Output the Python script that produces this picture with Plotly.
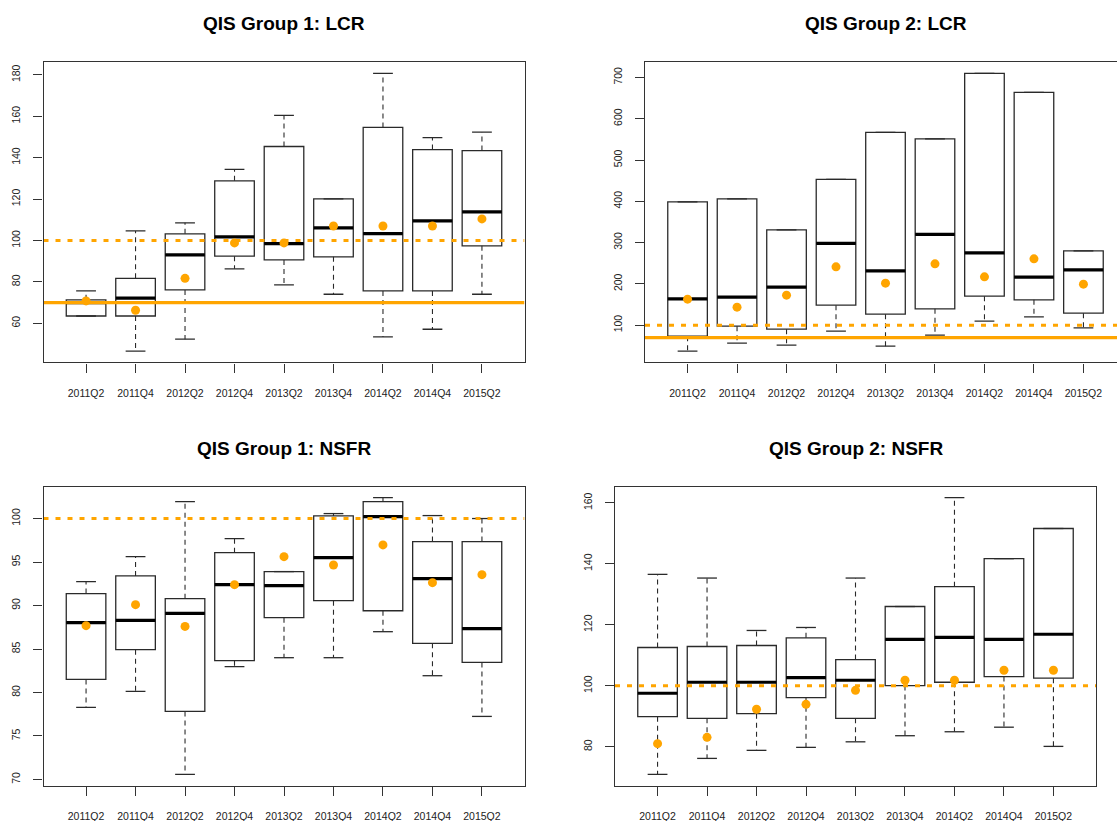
import plotly.graph_objects as go

# Reporting quarters (one box per quarter)
quarters = ["2011Q2", "2011Q4", "2012Q2", "2012Q4", "2013Q2",
            "2013Q4", "2014Q2", "2014Q4", "2015Q2"]

# QIS Group 1: LCR (%)
g1_lcr_lower = [63.5, 46.5, 52.3, 86.3, 78.5, 74.0, 53.4, 57.1, 74.0]
g1_lcr_q1 = [63.5, 63.5, 76.1, 92.4, 90.6, 92.1, 75.6, 75.6, 97.4]
g1_lcr_median = [70.0, 72.1, 93.0, 101.7, 98.5, 106.1, 103.3, 109.5, 113.8]
g1_lcr_q3 = [71.3, 81.7, 103.2, 128.8, 145.4, 120.1, 154.6, 143.9, 143.4]
g1_lcr_upper = [75.6, 104.6, 108.5, 134.3, 160.4, 120.1, 180.7, 149.7, 152.3]
g1_lcr_mean = [70.8, 66.3, 81.7, 98.8, 98.8, 107.0, 107.0, 107.0, 110.4]

# QIS Group 2: LCR (%)
g2_lcr_lower = [37.0, 56.4, 51.5, 85.5, 49.1, 75.8, 109.7, 120.2, 93.5]
g2_lcr_q1 = [73.4, 97.6, 90.3, 148.5, 126.6, 139.6, 170.3, 161.4, 129.1]
g2_lcr_median = [163.8, 167.8, 192.0, 297.9, 231.6, 319.7, 275.2, 216.3, 234.1]
g2_lcr_q3 = [398.8, 406.0, 331.0, 452.9, 566.8, 551.4, 709.7, 663.7, 280.1]
g2_lcr_upper = [398.8, 406.0, 331.0, 452.9, 566.8, 551.4, 709.7, 663.7, 280.1]
g2_lcr_mean = [163.0, 143.6, 172.7, 241.3, 201.8, 248.6, 217.1, 260.7, 199.3]

# QIS Group 1: NSFR (%)
g1_nsfr_lower = [78.29, 80.13, 70.58, 82.97, 84.0, 84.0, 86.99, 81.93, 77.25]
g1_nsfr_q1 = [81.5, 84.92, 77.82, 83.66, 88.6, 90.56, 89.4, 85.65, 83.46]
g1_nsfr_median = [88.03, 88.3, 89.1, 92.4, 92.29, 95.5, 100.23, 93.09, 87.34]
g1_nsfr_q3 = [91.37, 93.4, 90.79, 96.08, 93.9, 100.3, 101.95, 97.35, 97.35]
g1_nsfr_upper = [92.75, 95.62, 101.95, 97.7, 93.9, 100.57, 102.41, 100.34, 100.0]
g1_nsfr_mean = [87.68, 90.1, 87.6, 92.4, 95.62, 94.66, 96.97, 92.63, 93.55]

# QIS Group 2: NSFR (%)
g2_nsfr_lower = [70.9, 76.16, 78.8, 79.78, 81.6, 83.6, 84.9, 86.4, 80.1]
g2_nsfr_q1 = [89.86, 89.32, 90.85, 96.1, 89.3, 100.05, 101.15, 103.0, 102.5]
g2_nsfr_median = [97.53, 101.15, 101.15, 102.68, 101.8, 115.2, 115.9, 115.2, 116.9]
g2_nsfr_q3 = [112.55, 112.88, 113.2, 115.73, 108.6, 126.0, 132.5, 141.7, 151.6]
g2_nsfr_upper = [136.55, 135.34, 118.14, 119.12, 135.34, 126.0, 161.75, 141.7, 151.6]
g2_nsfr_mean = [80.99, 83.07, 92.27, 93.9, 98.5, 101.8, 101.8, 105.1, 105.1]

# Regulatory thresholds (%)
lcr_minimum = 70
full_compliance = 100

ORANGE = "#FFA500"
INK = "#2a2a2a"
FONT = "Liberation Sans, Arial, sans-serif"
W, H = 1117, 821

positions = list(range(1, len(quarters) + 1))
X_LO, X_HI = 0.14, len(quarters) + 0.86
BOX_W = 0.8


def fx(p):
    return p / W


def fy(p):
    return 1 - p / H


def y_range(lower, upper):
    lo, hi = min(lower), max(upper)
    pad = 0.04 * (hi - lo)
    return [lo - pad, hi + pad]


panels = [
    dict(title="QIS Group 1: LCR", lower=g1_lcr_lower, q1=g1_lcr_q1, med=g1_lcr_median,
         q3=g1_lcr_q3, upper=g1_lcr_upper, mean=g1_lcr_mean,
         left=43.5, right=524.5, top=62.3, bottom=362.3,
         yticks=list(range(60, 181, 20)), solid=lcr_minimum),
    dict(title="QIS Group 2: LCR", lower=g2_lcr_lower, q1=g2_lcr_q1, med=g2_lcr_median,
         q3=g2_lcr_q3, upper=g2_lcr_upper, mean=g2_lcr_mean,
         left=645.0, right=645.0 + 481.0, top=62.3, bottom=362.3,
         yticks=list(range(100, 701, 100)), solid=lcr_minimum),
    dict(title="QIS Group 1: NSFR", lower=g1_nsfr_lower, q1=g1_nsfr_q1, med=g1_nsfr_median,
         q3=g1_nsfr_q3, upper=g1_nsfr_upper, mean=g1_nsfr_mean,
         left=43.5, right=524.5, top=486.5, bottom=785.5,
         yticks=list(range(70, 101, 5)), solid=None),
    dict(title="QIS Group 2: NSFR", lower=g2_nsfr_lower, q1=g2_nsfr_q1, med=g2_nsfr_median,
         q3=g2_nsfr_q3, upper=g2_nsfr_upper, mean=g2_nsfr_mean,
         left=615.0, right=1096.0, top=486.5, bottom=785.5,
         yticks=list(range(80, 161, 20)), solid=None),
]

fig = go.Figure()
annotations = []

for i, p in enumerate(panels):
    s = "" if i == 0 else str(i + 1)
    xa, ya = "x" + s, "y" + s

    # the right-hand frame may run past the page edge: keep the visible part
    vis_right = min(p["right"], W)
    x_hi = X_LO + (X_HI - X_LO) * (vis_right - p["left"]) / (p["right"] - p["left"])
    clipped = vis_right < p["right"]

    # boxes (hinges only; whiskers and medians drawn separately)
    fig.add_trace(go.Box(
        x=positions, q1=p["q1"], median=p["med"], q3=p["q3"],
        lowerfence=p["q1"], upperfence=p["q3"], width=BOX_W,
        fillcolor="white", line=dict(color=INK, width=1.3), whiskerwidth=0,
        boxpoints=False, hoverinfo="skip", showlegend=False, xaxis=xa, yaxis=ya))

    # dashed whiskers
    wx, wy = [], []
    for k, pos in enumerate(positions):
        wx += [pos, pos, None, pos, pos, None]
        wy += [p["q3"][k], p["upper"][k], None, p["q1"][k], p["lower"][k], None]
    fig.add_trace(go.Scatter(x=wx, y=wy, mode="lines",
                             line=dict(color=INK, width=1.1, dash="5px,4px"),
                             hoverinfo="skip", showlegend=False, xaxis=xa, yaxis=ya))

    # whisker staples
    cx, cy = [], []
    for k, pos in enumerate(positions):
        for v in (p["upper"][k], p["lower"][k]):
            cx += [pos - BOX_W / 4, pos + BOX_W / 4, None]
            cy += [v, v, None]
    fig.add_trace(go.Scatter(x=cx, y=cy, mode="lines",
                             line=dict(color=INK, width=1.3),
                             hoverinfo="skip", showlegend=False, xaxis=xa, yaxis=ya))

    # thick medians
    mx, my = [], []
    for k, pos in enumerate(positions):
        mx += [pos - BOX_W / 2, pos + BOX_W / 2, None]
        my += [p["med"][k], p["med"][k], None]
    fig.add_trace(go.Scatter(x=mx, y=my, mode="lines",
                             line=dict(color="black", width=3.2),
                             hoverinfo="skip", showlegend=False, xaxis=xa, yaxis=ya))

    # threshold lines
    if p["solid"] is not None:
        fig.add_trace(go.Scatter(x=[X_LO, x_hi], y=[p["solid"], p["solid"]], mode="lines",
                                 line=dict(color=ORANGE, width=3.2),
                                 hoverinfo="skip", showlegend=False, xaxis=xa, yaxis=ya))
    fig.add_trace(go.Scatter(x=[X_LO, x_hi], y=[full_compliance, full_compliance], mode="lines",
                             line=dict(color=ORANGE, width=3, dash="5px,7px"),
                             hoverinfo="skip", showlegend=False, xaxis=xa, yaxis=ya))

    # means
    fig.add_trace(go.Scatter(x=positions, y=p["mean"], mode="markers",
                             marker=dict(color=ORANGE, size=9, line=dict(width=0)),
                             hoverinfo="skip", showlegend=False, xaxis=xa, yaxis=ya))

    axis_common = dict(showgrid=False, zeroline=False, showline=True, linecolor="#333333",
                       linewidth=1.4, ticks="outside", ticklen=9, tickwidth=1.2,
                       tickcolor="#333333", automargin=False,
                       tickfont=dict(family=FONT, size=10.5, color="#222222"))
    fig.layout["xaxis" + s] = dict(
        axis_common, domain=[fx(p["left"]), fx(vis_right)], range=[X_LO, x_hi],
        anchor=ya, mirror=True, tickmode="array", tickvals=positions, ticktext=quarters,
        tickangle=0, ticklabelstandoff=12)
    fig.layout["yaxis" + s] = dict(
        axis_common, domain=[fy(p["bottom"]), fy(p["top"])],
        range=y_range(p["lower"], p["upper"]), anchor=xa,
        mirror=not clipped, tickmode="array", tickvals=p["yticks"],
        tickangle=-90, ticklabelstandoff=9)

    annotations.append(dict(
        text="<b>%s</b>" % p["title"], x=fx((p["left"] + p["right"]) / 2),
        y=fy(p["top"] - 38.5), xref="paper", yref="paper", showarrow=False,
        xanchor="center", yanchor="middle",
        font=dict(family=FONT, size=19, color="black")))

fig.update_layout(
    width=W, height=H, margin=dict(l=0, r=0, t=0, b=0),
    paper_bgcolor="white", plot_bgcolor="white", template="none",
    showlegend=False, annotations=annotations, boxmode="overlay")

fig.write_html("out.html")
